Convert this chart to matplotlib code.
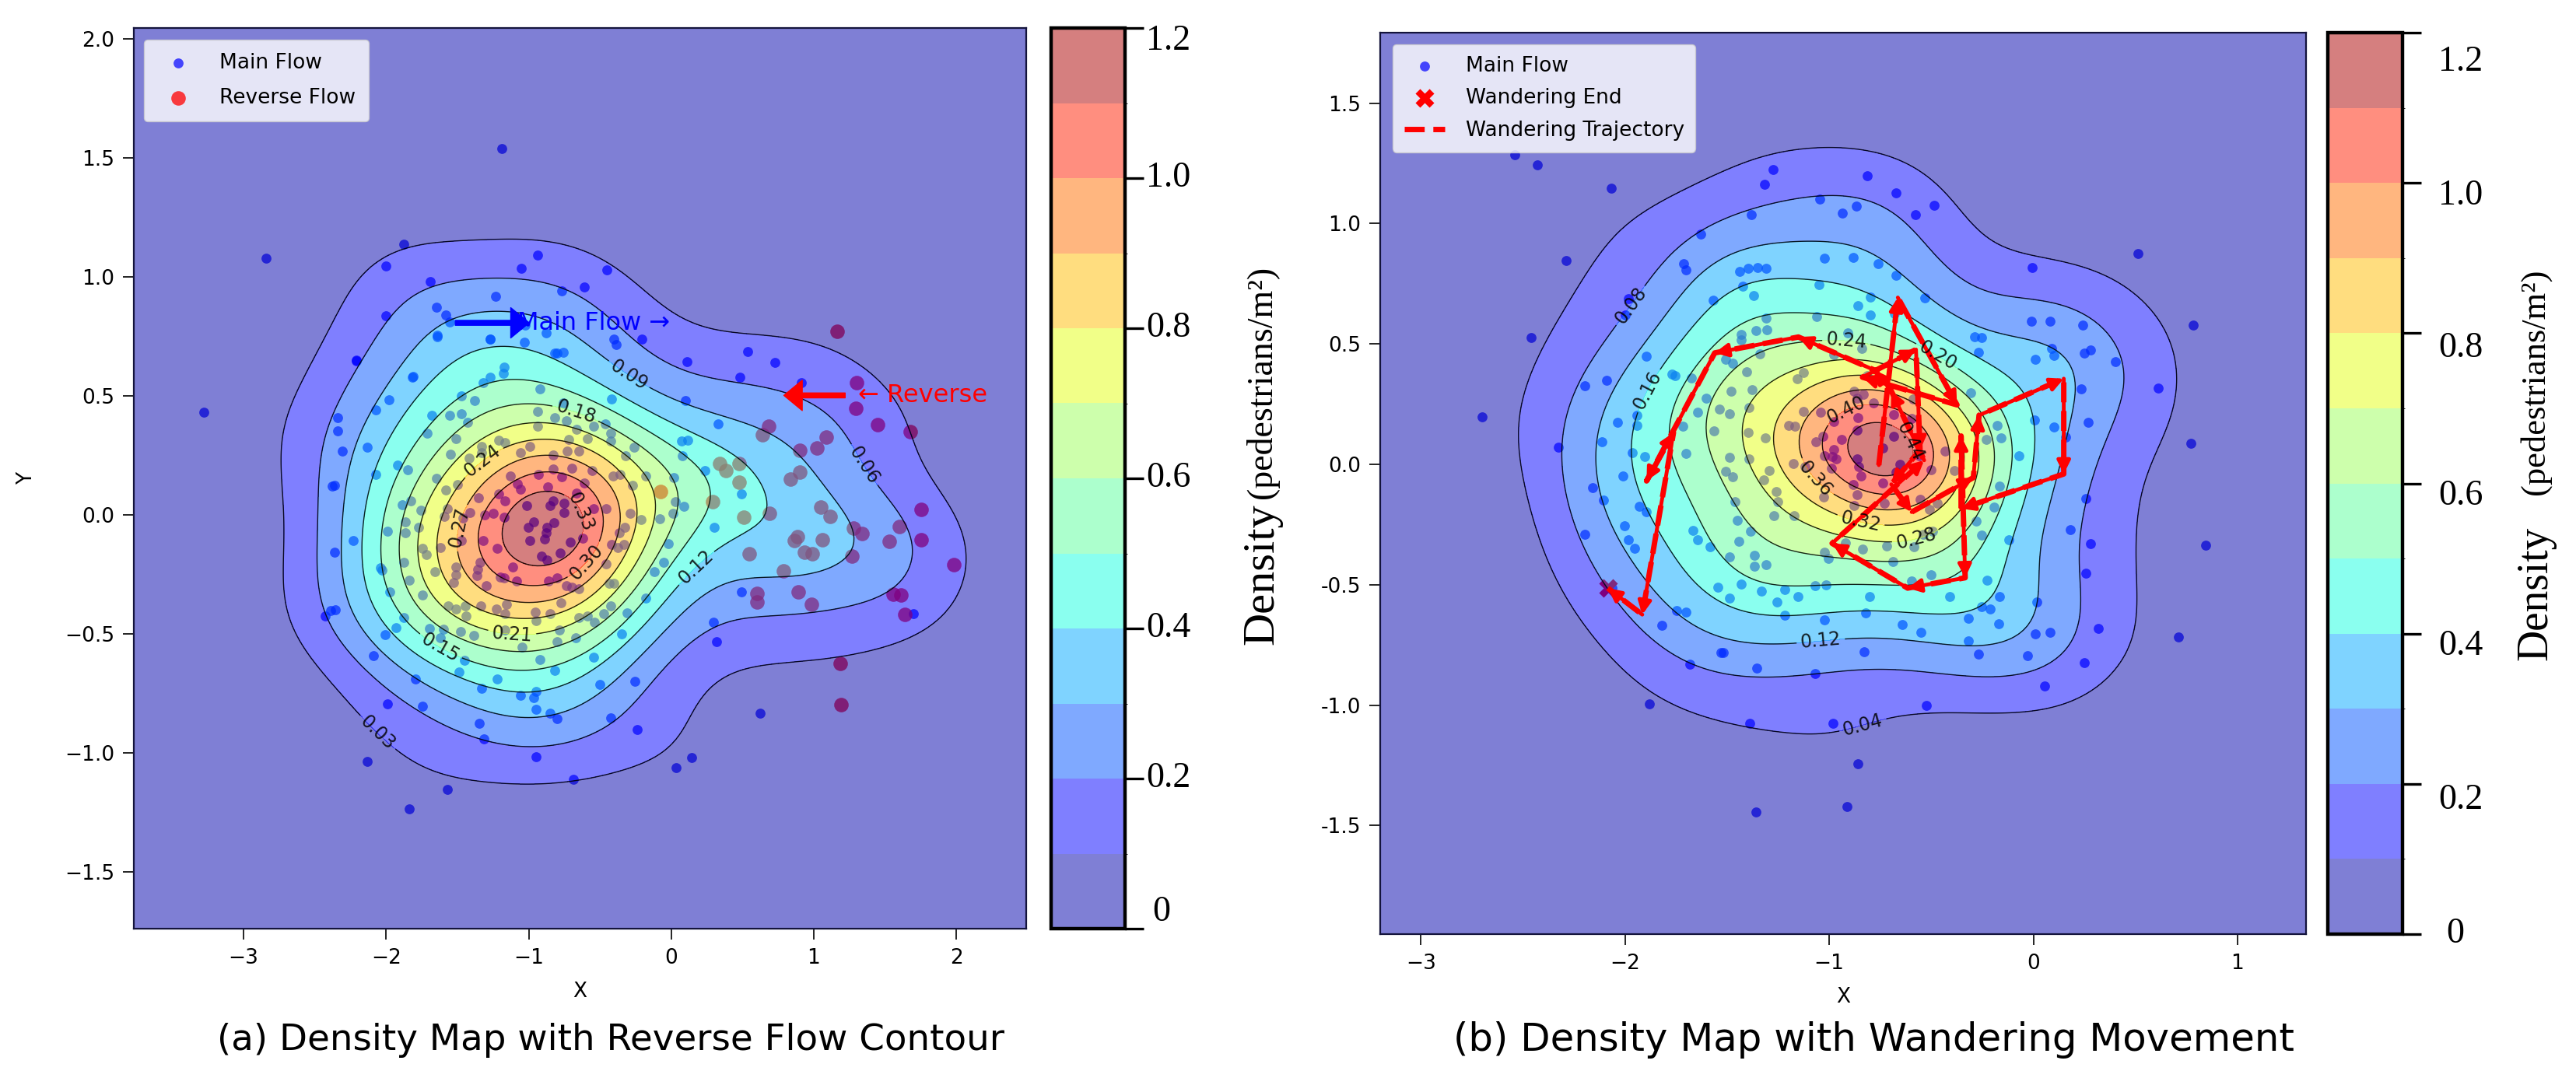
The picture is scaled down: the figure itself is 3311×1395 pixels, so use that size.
import numpy as np
import matplotlib
matplotlib.use("Agg")
import matplotlib.pyplot as plt
from matplotlib.cm import ScalarMappable
from matplotlib.colors import BoundaryNorm, ListedColormap

main_flow_a = [
(-2.21,.65),(-1.64,.75),(-1.27,.74),(-1.03,.725),(-.82,.68),(-.755,.684),(-.40,.74),(-.386,.717),(.11,.646),(-1.81,.584),
(-1.98,.486),(-2.07,.442),(-2.34,.41),(-2.34,.355),(-2.31,.27),(-2.13,.284),(-1.17,.622),(-1.18,.597),(-1.27,.578),(-1.32,.557),
(-.92,.53),(-1.47,.50),(-1.38,.48),(-.755,.47),(-.42,.488),(.10,.48),(-1.68,.418),(-1.556,.42),(-1.47,.426),(-1.43,.39),
(-.937,.434),(-.82,.41),(-.733,.395),(-.464,.382),(.327,.382),(-1.71,.344),(-.937,.374),(-.664,.36),(-.546,.374),(-.427,.344),
(-.427,.31),(.073,.31),(.118,.314),(-1.51,.322),(-1.21,.314),(-1.166,.306),(-.72,.317),(-.59,.32),(-.258,.284),(-1.328,.29),
(-1.546,.257),(-1.42,.24),(-1.33,.262),(-1.055,.262),(-.99,.29),(-.83,.254),(-.73,.27),(-.646,.268),(-.32,.248),(.076,.25),
(.237,.186),(-1.92,.21),(-1.85,.19),(-2.07,.172),(-1.13,.164),(-.93,.172),(-.83,.194),(-.77,.16),(-.70,.197),(-.555,.186),
(-.41,.164),(-.36,.172),(-.18,.164),(.018,.157),(-1.646,.154),(-2.36,.126),(-1.08,.132),(-1.055,.11),(-.864,.118),(-.61,.135),
(-.664,.094),(-.273,.126),(-1.58,.105),(-1.5,.128),(-1.21,.09),(-1.35,.072),(-1.165,.06),(-1.825,.06),(-1.887,.045),(.027,.056),
(.09,.037),(-.828,.06),(-1.015,.04),(-.85,.04),(-.75,.05),(-.75,.012),(-.546,.026),(-.458,.026),(-.29,.006),(.01,.009),
(-1.756,.02),(-1.57,.026),(-1.59,-.007),(-1.41,.012),(-1.463,-.013),(-1.31,0),(-1.246,.007),(-1.17,-.01),(-.21,-.02),(-.078,-.015),
(-1.865,-.03),(-1.774,-.053),(-1.99,-.068),(-1.865,-.075),(-.327,-.053),(-.364,-.075),(.304,-.053),(-1.004,-.051),(-.964,-.028),(-.822,-.032),
(-.873,-.053),(-.88,-.075),(-.887,-.10),(-.99,-.108),(-.62,-.097),(-.71,-.113),(-1.32,-.108),(-2.23,-.108),(-1.474,-.108),(-.018,-.119),
(-.42,-.122),(-.33,-.122),(-.375,-.135),(-1.62,-.137),(-1.22,-.14),(-1.746,-.14),(-1.72,-.166),(-2.36,-.157),(-.91,-.173),(-.874,-.19),
(-.78,-.16),(-1.877,-.2),(-2.04,-.22),(-1.11,-.217),(-1.34,-.2),(-.455,-.206),(-.055,-.2),(-2.03,-.231),(-1.51,-.217),(-1.51,-.25),
(-1.656,-.238),(-1.838,-.274),(-1.528,-.285),(-1.365,-.255),(-1.356,-.228),(-1.2,-.26),(-1.174,-.264),(-1.086,-.277),(-1.295,-.298),(-.859,-.277),
(-.80,-.264),(-.737,-.298),(-.70,-.304),(-.646,-.309),(-.437,-.288),(-.40,-.288),(-.118,-.239),(-1.974,-.324),(-1.747,-.337),(-.18,-.35),
(-1.565,-.383),(-1.51,-.396),(-1.446,-.38),(-1.437,-.424),(-1.337,-.383),(-1.228,-.394),(-1.155,-.375),(-1.165,-.413),(-.773,-.369),(-.955,-.408),
(-.85,-.413),(-.947,-.445),(-.646,-.429),(-.59,-.424),(-.427,-.38),(-.473,-.413),(-.537,-.449),(-.31,-.41),(-1.877,-.429),(-1.93,-.473),
(-2.007,-.502),(-2.356,-.397),(-1.696,-.475),(-1.6,-.478),(-1.62,-.516),(-1.48,-.49),(-1.383,-.505),(-1.165,-.484),(-.786,-.482),(-.35,-.5),
(-.67,-.514),(-.80,-.533),(-1.046,-.554),(-2.09,-.59),(-1.45,-.609),(-.92,-.607),(-.542,-.598),(-.82,-.653),(-1.488,-.658),(-1.797,-.69),
(-1.22,-.69),(-.5,-.712),(-.255,-.70),(-1.328,-.729),(-.95,-.742),(-1.055,-.756),(-.964,-.767),(-1.99,-.794),(-1.747,-.802),(-.95,-.816),
(-.85,-.832),(-.80,-.856),(-.422,-.852),(-1.346,-.876),(-.237,-.9),(-1.314,-.939),(-2.13,-1.034),(-.95,-1.017),(.142,-1.02),(.036,-1.063),
(.295,-.451),(.318,-.533),(-1.187,1.54),(-2.84,1.078),(-3.28,.433),(-1.878,1.137),(-2.0,1.047),(-1.688,.98),(-.94,1.093),(-1.05,1.038),
(-.45,1.032),(-.77,.942),(-.61,.96),(-1.233,.919),(-2.0,.837),(-1.647,.875),(-1.584,.84),(-1.555,.81),(-1.642,.756),(-2.21,.648),
(-1.815,.58),(-1.27,.738),(-1.025,.797),(-.88,.767),(-.8,.68),(-2.38,.122),(-2.39,-.40),(-2.425,-.425),(-1.838,-1.235),(-1.572,-1.154),
(-.685,-1.11),(.622,-.831),(.495,-.323),(.495,.09),(.484,.58),(.536,.686),(.726,.642),(.91,.558),(-.207,.738),(1.70,-.413),
]
reverse_flow_a = [
(1.164,.773),(1.30,.555),(1.296,.448),(1.446,.381),(1.676,.349),(.685,.375),(.64,.337),(1.089,.328),(1.02,.282),(.904,.273),
(.34,.215),(.386,.186),(.478,.215),(.478,.137),(.904,.18),(.835,.151),(.288,.058),(.507,-.009),(.691,.006),(-.075,.10),
(1.048,.032),(1.112,-.006),(1.751,.023),(1.279,-.055),(1.336,-.076),(1.60,-.047),(1.751,-.105),(1.532,-.11),(.887,-.09),(.864,-.108),
(1.06,-.105),(.933,-.157),(.99,-.163),(.547,-.163),(1.267,-.172),(.789,-.233),(1.982,-.209),(.6,-.328),(.6,-.366),(.893,-.323),
(.985,-.375),(1.555,-.331),(1.613,-.337),(1.636,-.419),(1.187,-.622),(1.192,-.797),
]
# estimated points that are hidden under labels and other dots: density only
density_core_a = [(-.85,-.05),(-.8,-.15),(-.9,.05),(-.75,-.05),(-.95,-.1),(-.85,-.2),(-.7,-.15),(-.8,.0),(-.9,-.12),(-.75,.08),
                  (-.65,-.1),(-.7,-.05),(-.78,-.1),(-.65,-.2)]
main_flow_b = [
(-1.713,.835),(-1.703,.809),(-1.439,.8),(-1.398,.814),(-1.353,.819),(-1.311,.814),(-1.023,.857),(-.883,.859),(-.762,.835),(-.674,.785),
(-.006,.819),(-1.423,.74),(-1.369,.70),(-1.57,.681),(-1.052,.746),(-.80,.695),(-.858,.66),(-.531,.69),(-.68,.626),(-.8,.62),
(-1.311,.606),(-1.061,.615),(-.01,.593),(.083,.593),(-1.36,.556),(-1.306,.558),(-1.433,.54),(-1.433,.516),(-.909,.545),(-.286,.529),
(-.254,.526),(-.267,.466),(.091,.483),(.102,.453),(.009,.437),(-1.341,.459),(-.839,.483),(-.979,.455),(-1.506,.437),(-1.474,.421),
(-1.754,.369),(-1.677,.358),(-1.404,.385),(-1.125,.381),(-1.156,.356),(-.813,.367),(-1.48,.305),(-1.379,.311),(-1.604,.276),(-.305,.297),
(-.877,.303),(-.832,.292),(-.864,.276),(-1.538,.229),(-1.489,.211),(-1.646,.216),(-1.395,.236),(-1.125,.22),(-1.042,.216),(-1.716,.157),
(-.782,.254),(-.59,.27),(.006,.184),(.102,.154),(-.178,.163),(-.159,.109),(-1.563,.139),(-1.398,.132),(-1.2,.163),(-1.169,.16),
(-1.315,.111),(-.858,.193),(-.979,.179),(-.597,.19),(-.686,.206),(-.864,.143),(-1.067,.093),(-1.032,.117),(-.94,.103),(-.686,.117),
(-.229,.103),(-.737,.068),(-.979,.06),(-.985,.033),(-1.023,.036),(-.966,.023),(-.864,.023),(-1.703,.044),(-1.489,.028),(-1.395,.023),
(-.07,.036),(-1.175,.003),(-.432,.055),(-.559,.036),(-.654,.001),(-.674,-.031),(-.502,-.023),(-1.118,-.008),(-.991,-.015),(-.854,-.01),
(-.845,-.047),(-1.506,-.029),(-1.472,-.053),(-1.322,-.066),(-1.296,-.026),(-.388,-.026),(-.883,-.085),(-.737,-.076),(-.864,-.126),(-1.258,-.112),
(-1.254,-.155),(-1.029,-.134),(-1.461,-.155),(-.877,-.171),(-.553,-.144),(-.731,-.16),(-.47,-.16),(-.194,-.179),(-.165,-.09),(-1.27,-.214),
(-1.173,-.214),(-1.451,-.234),(-.51,-.187),(-.282,-.236),(-1.667,-.273),(-1.646,-.313),(-1.582,-.341),(-1.385,-.279),(-1.442,-.32),(-.54,-.29),
(-.495,-.277),(-.254,-.295),(-.12,-.313),(-.92,-.327),(-.837,-.352),(-.718,-.34),(-.585,-.343),(-1.023,-.365),(-1.006,-.392),(-.689,-.403),
(-1.489,-.383),(-1.366,-.378),(-1.366,-.422),(-1.311,-.417),(-.502,-.46),(-.597,-.483),(-1.544,-.51),(-1.433,-.496),(-1.332,-.527),(-1.218,-.521),
(-1.154,-.548),(-1.07,-.503),(-1.017,-.5),(-.801,-.548),(-.409,-.55),(-.225,-.481),(-1.489,-.557),(-1.255,-.572),(-.165,-.548),(.019,-.572),
(-.254,-.591),(-.213,-.602),(-1.747,-.607),(-1.703,-.615),(-1.217,-.626),(-.82,-.618),(-1.023,-.645),(-.317,-.64),(-.642,-.666),(-.55,-.699),
(-.168,-.661),(.011,-.704),(.083,-.697),(-.317,-.733),(-1.518,-.783),(-1.53,-.78),(-.828,-.777),(-.269,-.787),(-.028,-.794),(-1.684,-.83),
(-1.357,-.847),(-1.07,-.868),(.055,-.92),(-2.54,1.287),(-2.43,1.244),(-2.068,1.147),(-1.276,1.224),(-1.316,1.164),(-.813,1.198),(-.672,1.126),
(-1.046,1.103),(-.869,1.072),(-.934,1.043),(-.487,1.075),(-.579,1.037),(-1.38,1.037),(-1.63,.957),(-2.29,.845),(.511,.874),(-1.984,.687),
(-2.0,.62),(-2.459,.526),(-1.895,.448),(-1.77,.376),(-2.197,.328),(-2.09,.348),(.241,.578),(.25,.463),(.282,.474),(.402,.428),
(.612,.316),(.785,.578),(.233,.313),(.27,.175),(.16,.112),(.773,.086),(-2.70,.198),(-2.326,.072),(-2.113,.095),(-1.944,.204),
(-1.944,.161),(-2.036,.175),(-1.964,.049),(-1.903,.032),(-2.012,-.049),(-2.161,-.098),(-2.105,-.147),(-1.932,-.175),(-1.895,-.198),(-2.004,-.256),
(-2.197,-.29),(-1.984,-.313),(-1.952,-.348),(.258,-.141),(.181,-.27),(.282,-.328),(.845,-.336),(.258,-.451),(.318,-.681),(.712,-.718),
(.25,-.825),(-1.883,-.994),(-1.388,-1.075),(-.982,-1.075),(-.523,-1.0),(-.861,-1.244),(-.913,-1.422),(-1.36,-1.443),(-1.819,-.667),(-2.065,-.515),
]
wander_path = [
(-.757,-.003),(-.664,.693),(-.374,.247),(-.837,.362),(-.575,.477),(-.555,.06),(-.696,-.083),(-.596,-.198),(-.294,-.055),(-.266,.204),
(.149,.356),(.149,-.04),(-.354,-.184),(-.354,.118),(-.334,-.471),(-.616,-.514),(-.986,-.328),(-.535,.017),(-.696,.305),(-.777,.391),
(-1.151,.529),(-1.561,.463),(-1.895,-.069),(-1.763,.132),(-1.916,-.624),(-2.085,-.514),
]
# estimated points hidden under the trajectory: density only
density_core_b = [(-.7,.1),(-.6,.15),(-.75,.0),(-.55,.05),(-.65,.2),(-.8,.12),(-.6,-.05),(-.5,.15),(-.7,.25),(-.72,.05),(-.62,.08),(-.5,-.02),
                  (-.68,.08),(-.58,.1),(-.66,.02),(-.6,.2),(-.52,.08),(-.7,.15)]
levels_a = [0, .03, .06, .09, .12, .15, .18, .21, .24, .27, .30, .33, .36]
levels_b = [0, .04, .08, .12, .16, .20, .24, .28, .32, .36, .40, .44, .48]
cbar_bounds = [0, .1, .2, .3, .4, .5, .6, .7, .8, .9, 1.0, 1.1, 1.2]
cbar_ticks = [0, .2, .4, .6, .8, 1.0, 1.2]
cbar_tick_labels = ["0", "0.2", "0.4", "0.6", "0.8", "1.0", "1.2"]
xticks_a = [-3, -2, -1, 0, 1, 2]
yticks_a = [-1.5, -1.0, -.5, 0, .5, 1.0, 1.5, 2.0]
xticks_b = [-3, -2, -1, 0, 1]
yticks_b = [-1.5, -1.0, -.5, 0, .5, 1.0, 1.5]
yticklabels_b = ["-1.5", "-1.0", "-0.5", "0.0", "0.5", "1.0", "1.5"]
labels_a = {.03: (-2.02, -.89), .06: (1.348, .209), .09: (-.294, .593), .12: (.127, -.192),
            .15: (-1.62, -.555), .18: (-.64, .485), .21: (-1.123, -.547), .24: (-1.41, .294),
            .27: (-1.486, -.052), .30: (-.576, -.206), .33: (-.662, .006)}
labels_b = {.04: (-.865, -.997), .08: (-1.923, .629), .12: (-1.046, -.693), .16: (-1.883, .305),
            .20: (-.427, .514), .24: (-.909, .578), .28: (-.563, -.351), .32: (-.857, -.279),
            .36: (-1.119, -.098), .40: (-.958, .305), .44: (-.535, .124)}

W, H = 3311, 1395
SERIF = "Liberation Serif"
BW_SCALE = 1.12


def kde(points, xg, yg):
    pts = np.asarray(points).T
    n = pts.shape[1]
    cov = np.cov(pts) * n ** (-1 / 3) * BW_SCALE ** 2
    inv = np.linalg.inv(cov)
    norm = 1 / (2 * np.pi * np.sqrt(np.linalg.det(cov)) * n)
    dx = xg[..., None] - pts[0]
    dy = yg[..., None] - pts[1]
    q = inv[0, 0] * dx ** 2 + 2 * inv[0, 1] * dx * dy + inv[1, 1] * dy ** 2
    return norm * np.exp(-.5 * q).sum(axis=-1)


def box(l, t, r, b):
    return [l / W, 1 - b / H, (r - l) / W, (b - t) / H]


def density_panel(ax, points, levels, xlim, ylim, label_pos):
    xs = np.linspace(*xlim, 220)
    ys = np.linspace(*ylim, 220)
    xg, yg = np.meshgrid(xs, ys)
    z = kde(points, xg, yg)
    print("peak", z.max())
    ax.contourf(xg, yg, z, levels=levels, cmap="jet", alpha=.5, zorder=3)
    ax.set_xlim(xlim)
    ax.set_ylim(ylim)
    for lev in levels[1:-1]:
        if lev >= z.max():
            continue
        cs = ax.contour(xg, yg, z, levels=[lev], colors="black", linewidths=1.0, alpha=.85, zorder=4)
        cs.clabel(manual=[label_pos[lev]], fontsize=17, inline=True, fmt="%.2f")
    ax.tick_params(labelsize=19, length=10, width=1.2, pad=8)
    for s in ax.spines.values():
        s.set_linewidth(1.6)
        s.set_color("#14143c")
        s.set_zorder(6)


def colorbar_panel(fig, cax, offsets, parts):
    colors = plt.cm.jet((np.arange(12) + .5) / 12)
    sm = ScalarMappable(norm=BoundaryNorm(cbar_bounds, 12), cmap=ListedColormap(colors))
    cb = fig.colorbar(sm, cax=cax, ticks=cbar_ticks, spacing="proportional", alpha=.5)
    cb.set_ticklabels([])
    cb.ax.tick_params(length=17, width=2.4, color="black")
    cb.outline.set_linewidth(3.2)
    for v, lab, (dx, dy) in zip(cbar_ticks, cbar_tick_labels, offsets):
        cax.annotate(lab, xy=(1, v), xycoords=cax.get_yaxis_transform(), xytext=(dx, dy),
                     textcoords="offset pixels", fontsize=33, family=SERIF, ha="center", va="center")
    for txt, x, y, size in parts:
        fig.text(x / W, 1 - y / H, txt, rotation=90, ha="center", va="center", fontsize=size, family=SERIF)


fig = plt.figure(figsize=(W / 100, H / 100), dpi=100)

# panel (a)
ax1 = fig.add_axes(box(172, 36, 1319, 1194))
xlim_a, ylim_a = (-3.77, 2.49), (-1.738, 2.047)
pa, pr = np.array(main_flow_a), np.array(reverse_flow_a)
h1 = ax1.scatter(pa[:, 0], pa[:, 1], s=85, color="blue", alpha=.7, linewidths=0, zorder=2, label="Main Flow")
h2 = ax1.scatter(pr[:, 0], pr[:, 1], s=180, color="red", alpha=.75, linewidths=0, zorder=2, label="Reverse Flow")
density_panel(ax1, np.vstack([pa, pr, density_core_a]), levels_a, xlim_a, ylim_a, labels_a)
ax1.set_xticks(xticks_a)
ax1.set_yticks(yticks_a)
ax1.set_xlabel("X", fontsize=19, labelpad=12)
ax1.set_ylabel("Y", fontsize=19, labelpad=26)
ax1.annotate("", xy=(-.997, .808), xytext=(-1.515, .808), zorder=7,
             arrowprops=dict(facecolor="blue", edgecolor="blue", width=4.5, headwidth=28, headlength=17, shrink=0))
ax1.annotate("", xy=(.79, .503), xytext=(1.22, .503), zorder=7,
             arrowprops=dict(facecolor="red", edgecolor="red", width=4.5, headwidth=28, headlength=17, shrink=0))
ax1.text(-1.08, .808, "Main Flow →", color="blue", fontsize=23, va="center", zorder=7)
ax1.text(1.31, .503, "← Reverse", color="red", fontsize=23, va="center", zorder=7)
leg = ax1.legend(handles=[h1, h2], loc="upper left", fontsize=19, bbox_to_anchor=(.0115, .987),
                 borderaxespad=0, labelspacing=.7, handletextpad=1.0, borderpad=.65)
leg.set_zorder(8)

cax1 = fig.add_axes(box(1351, 36, 1446, 1194))
colorbar_panel(fig, cax1, [(47, 21), (56, 0), (56, 0), (56, 0), (56, 0), (56, 0), (56, -17)],
               [("(pedestrians/m²)", 1622, 491, 33), ("Density", 1622, 738, 42)])

# panel (b)
ax2 = fig.add_axes(box(1774, 42, 2964, 1201))
xlim_b, ylim_b = (-3.2, 1.336), (-1.951, 1.793)
pb, pw = np.array(main_flow_b), np.array(wander_path)
h3 = ax2.scatter(pb[:, 0], pb[:, 1], s=85, color="blue", alpha=.7, linewidths=0, zorder=2, label="Main Flow")
h4 = ax2.scatter(pw[-1:, 0], pw[-1:, 1], s=300, marker="X", color="red", linewidths=0, zorder=2, label="Wandering End")
density_panel(ax2, np.vstack([pb, pw, density_core_b]), levels_b, xlim_b, ylim_b, labels_b)
ax2.set_xticks(xticks_b)
ax2.set_yticks(yticks_b)
ax2.set_yticklabels(yticklabels_b)
ax2.set_xlabel("X", fontsize=19, labelpad=12)
h5, = ax2.plot(pw[:, 0], pw[:, 1], color="red", lw=5, ls="--", zorder=5, label="Wandering Trajectory")
for a, b in zip(pw[:-1], pw[1:]):
    ax2.annotate("", xy=b, xytext=a, zorder=5,
                 arrowprops=dict(arrowstyle="-|>,head_width=.5,head_length=1.0", color="red", lw=3.5, shrinkA=0, shrinkB=0))
leg = ax2.legend(handles=[h3, h4, h5], loc="upper left", fontsize=19, bbox_to_anchor=(.0135, .987),
                 borderaxespad=0, labelspacing=.6, handletextpad=1.0, borderpad=.55)
leg.set_zorder(8)

cax2 = fig.add_axes(box(2992, 42, 3088, 1201))
colorbar_panel(fig, cax2, [(68, 0), (75, -21), (75, -16), (75, -16), (75, -19), (75, -17), (75, -38)],
               [("(pedestrians/m²)", 3259, 491, 32), ("Density", 3259, 763, 40)])

fig.text(785 / W, 1 - 1337 / H, "(a) Density Map with Reverse Flow Contour", fontsize=33.7, ha="center", va="center")
fig.text(2408 / W, 1 - 1337 / H, "(b) Density Map with Wandering Movement", fontsize=35.8, ha="center", va="center")

fig.savefig("out.png", dpi=100)
